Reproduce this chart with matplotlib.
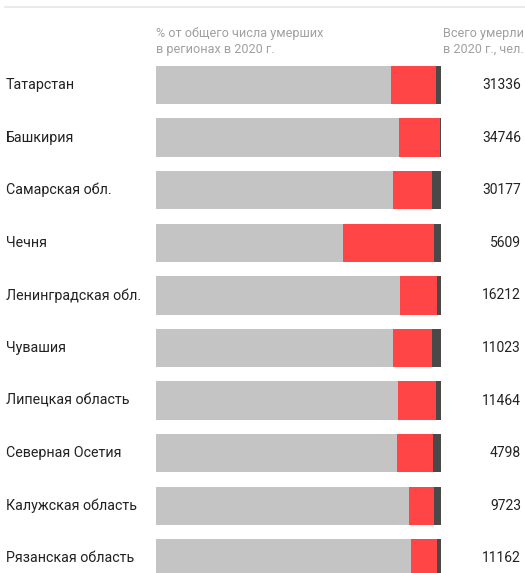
import numpy as np
import matplotlib.pyplot as plt
from matplotlib.transforms import blended_transform_factory

# данные
regions = ["Татарстан", "Башкирия", "Самарская обл.", "Чечня",
           "Ленинградская обл.", "Чувашия", "Липецкая область",
           "Северная Осетия", "Калужская область", "Рязанская область"]
share_gray = [82.5, 85.3, 83.2, 65.5, 85.6, 83.2, 85.0, 84.7, 88.9, 89.4]
share_red = [15.9, 14.4, 13.8, 32.2, 13.1, 13.6, 13.4, 12.4, 8.8, 9.2]
share_dark = [1.6, 0.3, 3.0, 2.3, 1.3, 3.2, 1.6, 2.9, 2.3, 1.4]
total_dead = [31336, 34746, 30177, 5609, 16212, 11023, 11464, 4798, 9723, 11162]

plt.rcParams['font.family'] = ['Roboto', 'DejaVu Sans']

W, H = 525, 573
fig = plt.figure(figsize=(W / 100, H / 100), dpi=100)

# оси: по x от 156 до 441 пикселей, по y вся высота
ax = fig.add_axes([156 / W, 0, 285 / W, 1])
pitch = 52.6
y0 = 85.0
ax.set_ylim((H - y0) / pitch, -y0 / pitch)
ax.set_xlim(0, 100)
ax.axis('off')

y = np.arange(len(regions))
g = np.array(share_gray)
r = np.array(share_red)
d = np.array(share_dark)
h = 38.5 / pitch
ax.barh(y, g, height=h, color='#c4c4c4')
ax.barh(y, r, left=g, height=h, color='#ff4545')
ax.barh(y, d, left=g + r, height=h, color='#494949')

tr = blended_transform_factory(fig.transFigure, ax.transData)
for i in range(len(regions)):
    ax.text(6 / W, y[i], regions[i], transform=tr, ha='left', va='center',
            fontsize=10.3, color='#222222')
    ax.text(521 / W, y[i], str(total_dead[i]), transform=tr, ha='right',
            va='center', fontsize=10, color='#222222')

# заголовки столбцов
fig.text(156 / W, 1 - 41 / H, "% от общего числа умерших\nв регионах в 2020 г.",
         ha='left', va='center', fontsize=9.1, color='#a0a0a0', linespacing=1.3)
fig.text(524 / W, 1 - 41 / H, "Всего умерли\nв 2020 г., чел.",
         ha='right', va='center', fontsize=9.1, color='#a0a0a0', linespacing=1.3)

# линия сверху
fig.add_artist(plt.Line2D([5 / W, 1], [1 - 7 / H, 1 - 7 / H],
                          color='#e6e6e6', linewidth=1.2))

fig.savefig("out.png", dpi=100, facecolor='white')
